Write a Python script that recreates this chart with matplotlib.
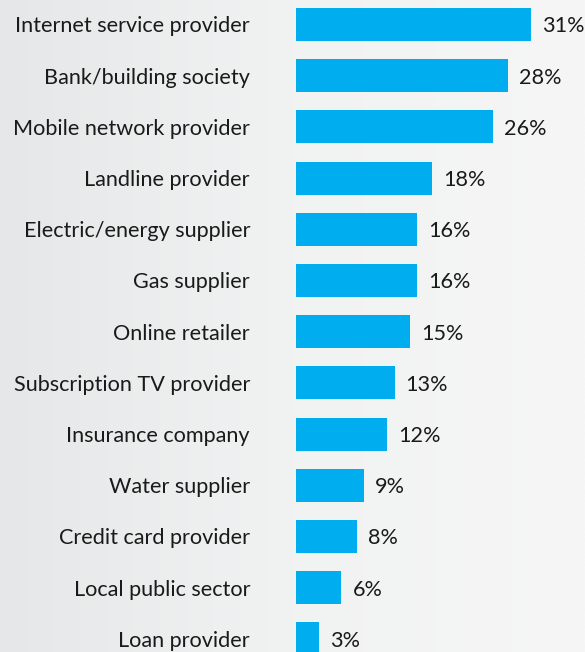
import numpy as np
import matplotlib.pyplot as plt
from matplotlib.colors import LinearSegmentedColormap

categories = ['Internet service provider', 'Bank/building society', 'Mobile network provider',
              'Landline provider', 'Electric/energy supplier', 'Gas supplier', 'Online retailer',
              'Subscription TV provider', 'Insurance company', 'Water supplier',
              'Credit card provider', 'Local public sector', 'Loan provider']
values = [31, 28, 26, 18, 16, 16, 15, 13, 12, 9, 8, 6, 3]

plt.rcParams['font.family'] = ['Lato', 'DejaVu Sans']

fig = plt.figure(figsize=(5.85, 6.52), dpi=100)

# grey-to-white background
bg = fig.add_axes([0, 0, 1, 1], zorder=0)
grad = np.linspace(0, 1, 256).reshape(1, -1)
cmap = LinearSegmentedColormap.from_list('bg', ['#e6e7e8', '#f1f2f2', '#f6f6f6'])
bg.imshow(grad, aspect='auto', cmap=cmap, extent=[0, 1, 0, 1])
bg.axis('off')

ax = fig.add_axes([296 / 585, 0, 289 / 585, 1], zorder=1)
ax.patch.set_alpha(0)
y = np.arange(len(categories))
ax.barh(y, values, height=0.645, color='#00aeef')
ax.set_xlim(0, 289 / 7.58)
ax.set_ylim(12.256, -0.478)

for i, (cat, v) in enumerate(zip(categories, values)):
    ax.annotate(cat, (0, i), xytext=(-46, -2), textcoords='offset pixels',
                ha='right', va='center', fontsize=15.6, color='#1a1a1a', annotation_clip=False)
    ax.annotate(f'{v}%', (v, i), xytext=(11, -2), textcoords='offset pixels',
                ha='left', va='center', fontsize=15.6, color='#1a1a1a', annotation_clip=False)

ax.axis('off')
fig.savefig('out.png', dpi=100)
